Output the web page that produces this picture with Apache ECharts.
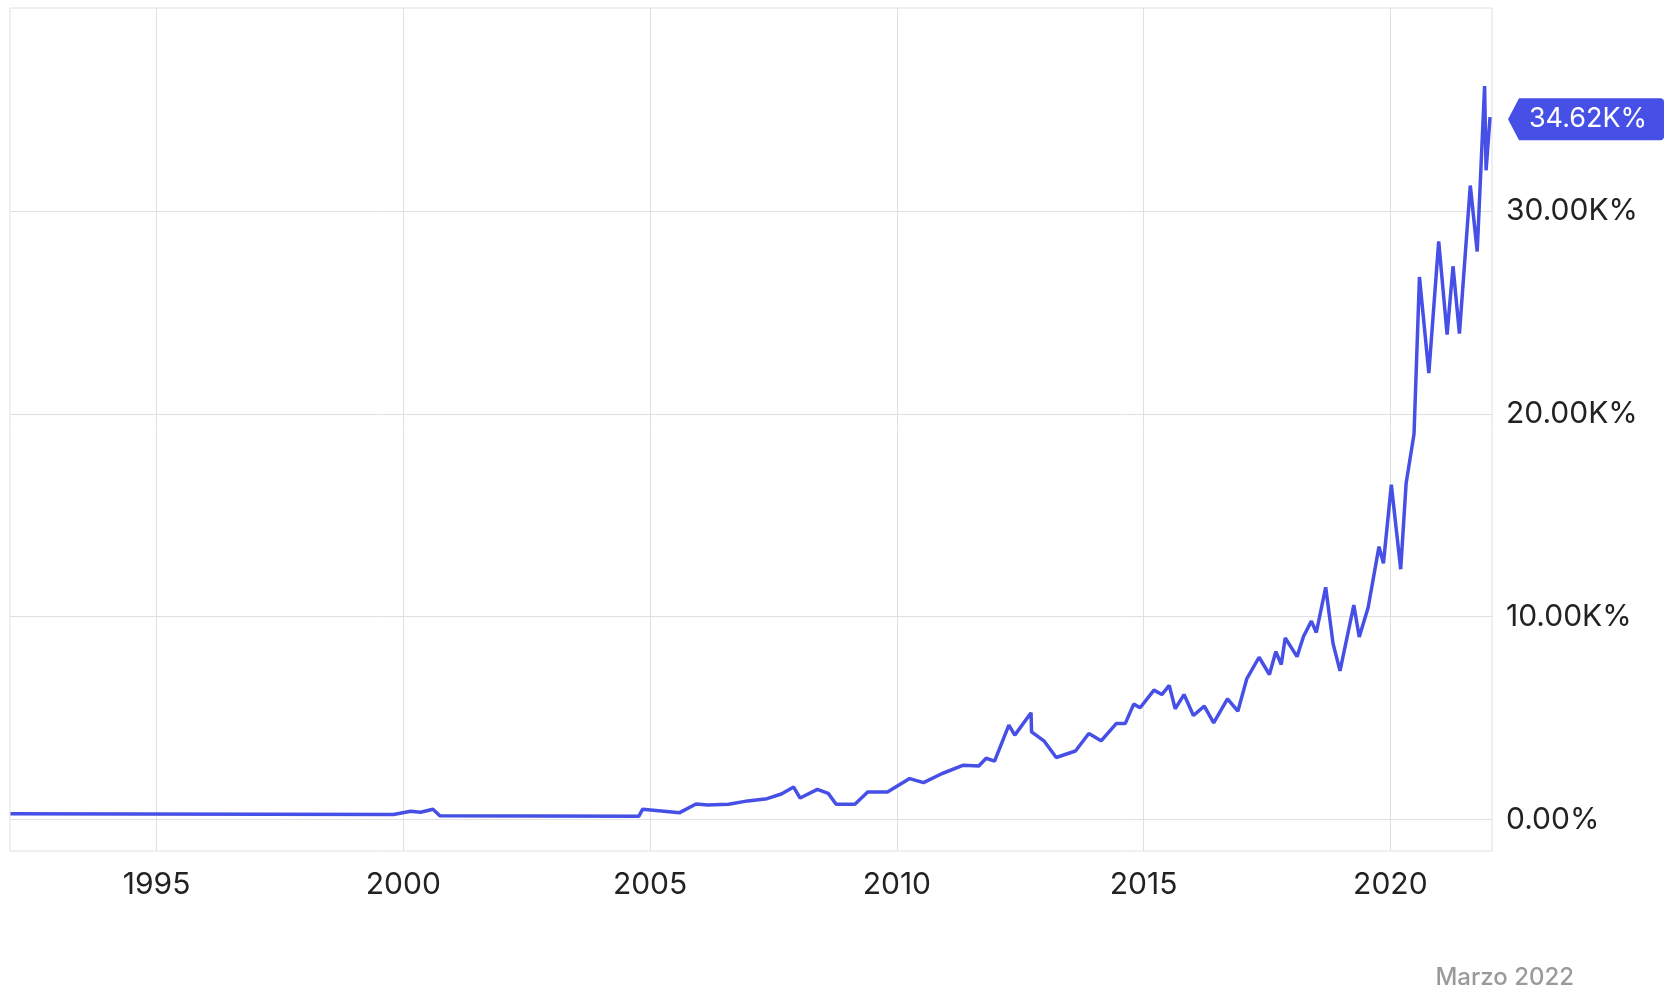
<!DOCTYPE html>
<html>
<head>
<meta charset="utf-8">
<script src="https://cdn.jsdelivr.net/npm/echarts@6/dist/echarts.min.js"></script>
<style>
  html, body { margin: 0; padding: 0; background: #fff; }
  #chart { width: 1673px; height: 993px; }
</style>
</head>
<body>
<div id="chart"></div>
<script>
// fractional years and cumulative return (%)
const years = [
  1992.04, 1999.80, 2000.15, 2000.35, 2000.60, 2000.74, 2004.77, 2004.85,
  2005.60, 2005.93, 2006.17, 2006.59, 2006.98, 2007.37, 2007.66, 2007.91,
  2008.04, 2008.39, 2008.61, 2008.77, 2009.15, 2009.41, 2009.81, 2010.26,
  2010.54, 2010.92, 2011.35, 2011.66, 2011.81, 2011.98, 2012.27, 2012.39,
  2012.72, 2012.73, 2012.98, 2013.23, 2013.62, 2013.89, 2014.14, 2014.45,
  2014.63, 2014.80, 2014.93, 2015.21, 2015.37, 2015.52, 2015.64, 2015.82,
  2016.01, 2016.23, 2016.42, 2016.70, 2016.91, 2017.09, 2017.34, 2017.55,
  2017.68, 2017.79, 2017.87, 2018.11, 2018.24, 2018.40, 2018.50, 2018.69,
  2018.84, 2018.98, 2019.26, 2019.37, 2019.55, 2019.77, 2019.86, 2020.02,
  2020.21, 2020.32, 2020.48, 2020.59, 2020.78, 2020.98, 2021.15, 2021.27,
  2021.40, 2021.62, 2021.76, 2021.91, 2021.94, 2022.02
]
const values = [
  290, 250, 410, 360, 510, 190, 160, 510,
  340, 770, 720, 750, 920, 1030, 1260, 1600,
  1060, 1490, 1290, 750, 750, 1360, 1360, 2020,
  1820, 2270, 2680, 2640, 3020, 2880, 4650, 4160,
  5260, 4320, 3880, 3060, 3380, 4240, 3880, 4740,
  4740, 5690, 5510, 6380, 6160, 6610, 5460, 6160,
  5130, 5590, 4770, 5950, 5340, 6930, 8000, 7150,
  8280, 7640, 8950, 8030, 9020, 9780, 9220, 11450,
  8670, 7330, 10570, 9000, 10450, 13450, 12630, 16500,
  12340, 16580, 19000, 26740, 22000, 28500, 23900, 27270,
  23950, 31250, 28000, 36150, 32000, 34620
]
const xTicks = [1995, 2000, 2005, 2010, 2015, 2020]
const yTicks = [0, 10000, 20000, 30000]
const footnote = 'Marzo 2022'

const blue = '#4650e6'
const fmtPct = (v) => v === 0 ? '0.00%' : (v / 1000).toFixed(2) + 'K%'

const chart = echarts.init(document.getElementById('chart'))

const lastIdx = years.length - 1

const option = {
  animation: false,
  backgroundColor: '#fff',
  textStyle: { fontFamily: 'Inter' },
  grid: {
    left: 10, top: 8, right: 181, bottom: 142,
    show: true,
    borderColor: '#e0e0e0',
    borderWidth: 1
  },
  xAxis: {
    type: 'value',
    min: 1992.03,
    max: 2022.06,
    axisLine: { show: false },
    axisTick: { show: false, customValues: xTicks },
    axisLabel: {
      customValues: xTicks,
      formatter: (v) => String(Math.round(v)),
      color: '#222',
      fontSize: 30,
      margin: 19,
      fontFamily: 'Inter'
    },
    splitLine: { show: true, lineStyle: { color: '#e0e0e0', width: 1 } }
  },
  yAxis: {
    type: 'value',
    position: 'right',
    min: -1550,
    max: 40000,
    axisLine: { show: false },
    axisTick: { show: false, customValues: yTicks },
    axisLabel: {
      customValues: yTicks,
      formatter: fmtPct,
      color: '#222',
      fontSize: 30,
      margin: 14,
      fontFamily: 'Inter'
    },
    splitLine: { show: true, lineStyle: { color: '#e0e0e0', width: 1 } }
  },
  series: [
    {
      type: 'line',
      data: years.map((y, i) => [y, values[i]]),
      showSymbol: false,
      symbol: 'none',
      lineStyle: { color: blue, width: 3.5 },
      itemStyle: { color: blue },
      markPoint: {
        silent: true,
        symbol: 'path://M0,21 L11,0 L152,0 Q156,0 156,4 L156,38 Q156,42 152,42 L11,42 Z',
        symbolSize: [156, 42],
        symbolKeepAspect: false,
        symbolOffset: [96, 2],
        itemStyle: { color: blue },
        label: {
          show: true,
          position: 'inside',
          color: '#fff',
          fontSize: 27,
          fontFamily: 'Inter',
          offset: [2, 0],
          formatter: (p) => fmtPct(p.value)
        },
        data: [
          { coord: [years[lastIdx], values[lastIdx]], value: values[lastIdx] }
        ]
      }
    }
  ],
  graphic: [
    {
      type: 'text',
      right: 99,
      top: 966,
      style: {
        text: footnote,
        fill: '#9a9a9a',
        font: '500 24px Inter'
      }
    }
  ]
}

chart.setOption(option)
</script>
</body>
</html>
